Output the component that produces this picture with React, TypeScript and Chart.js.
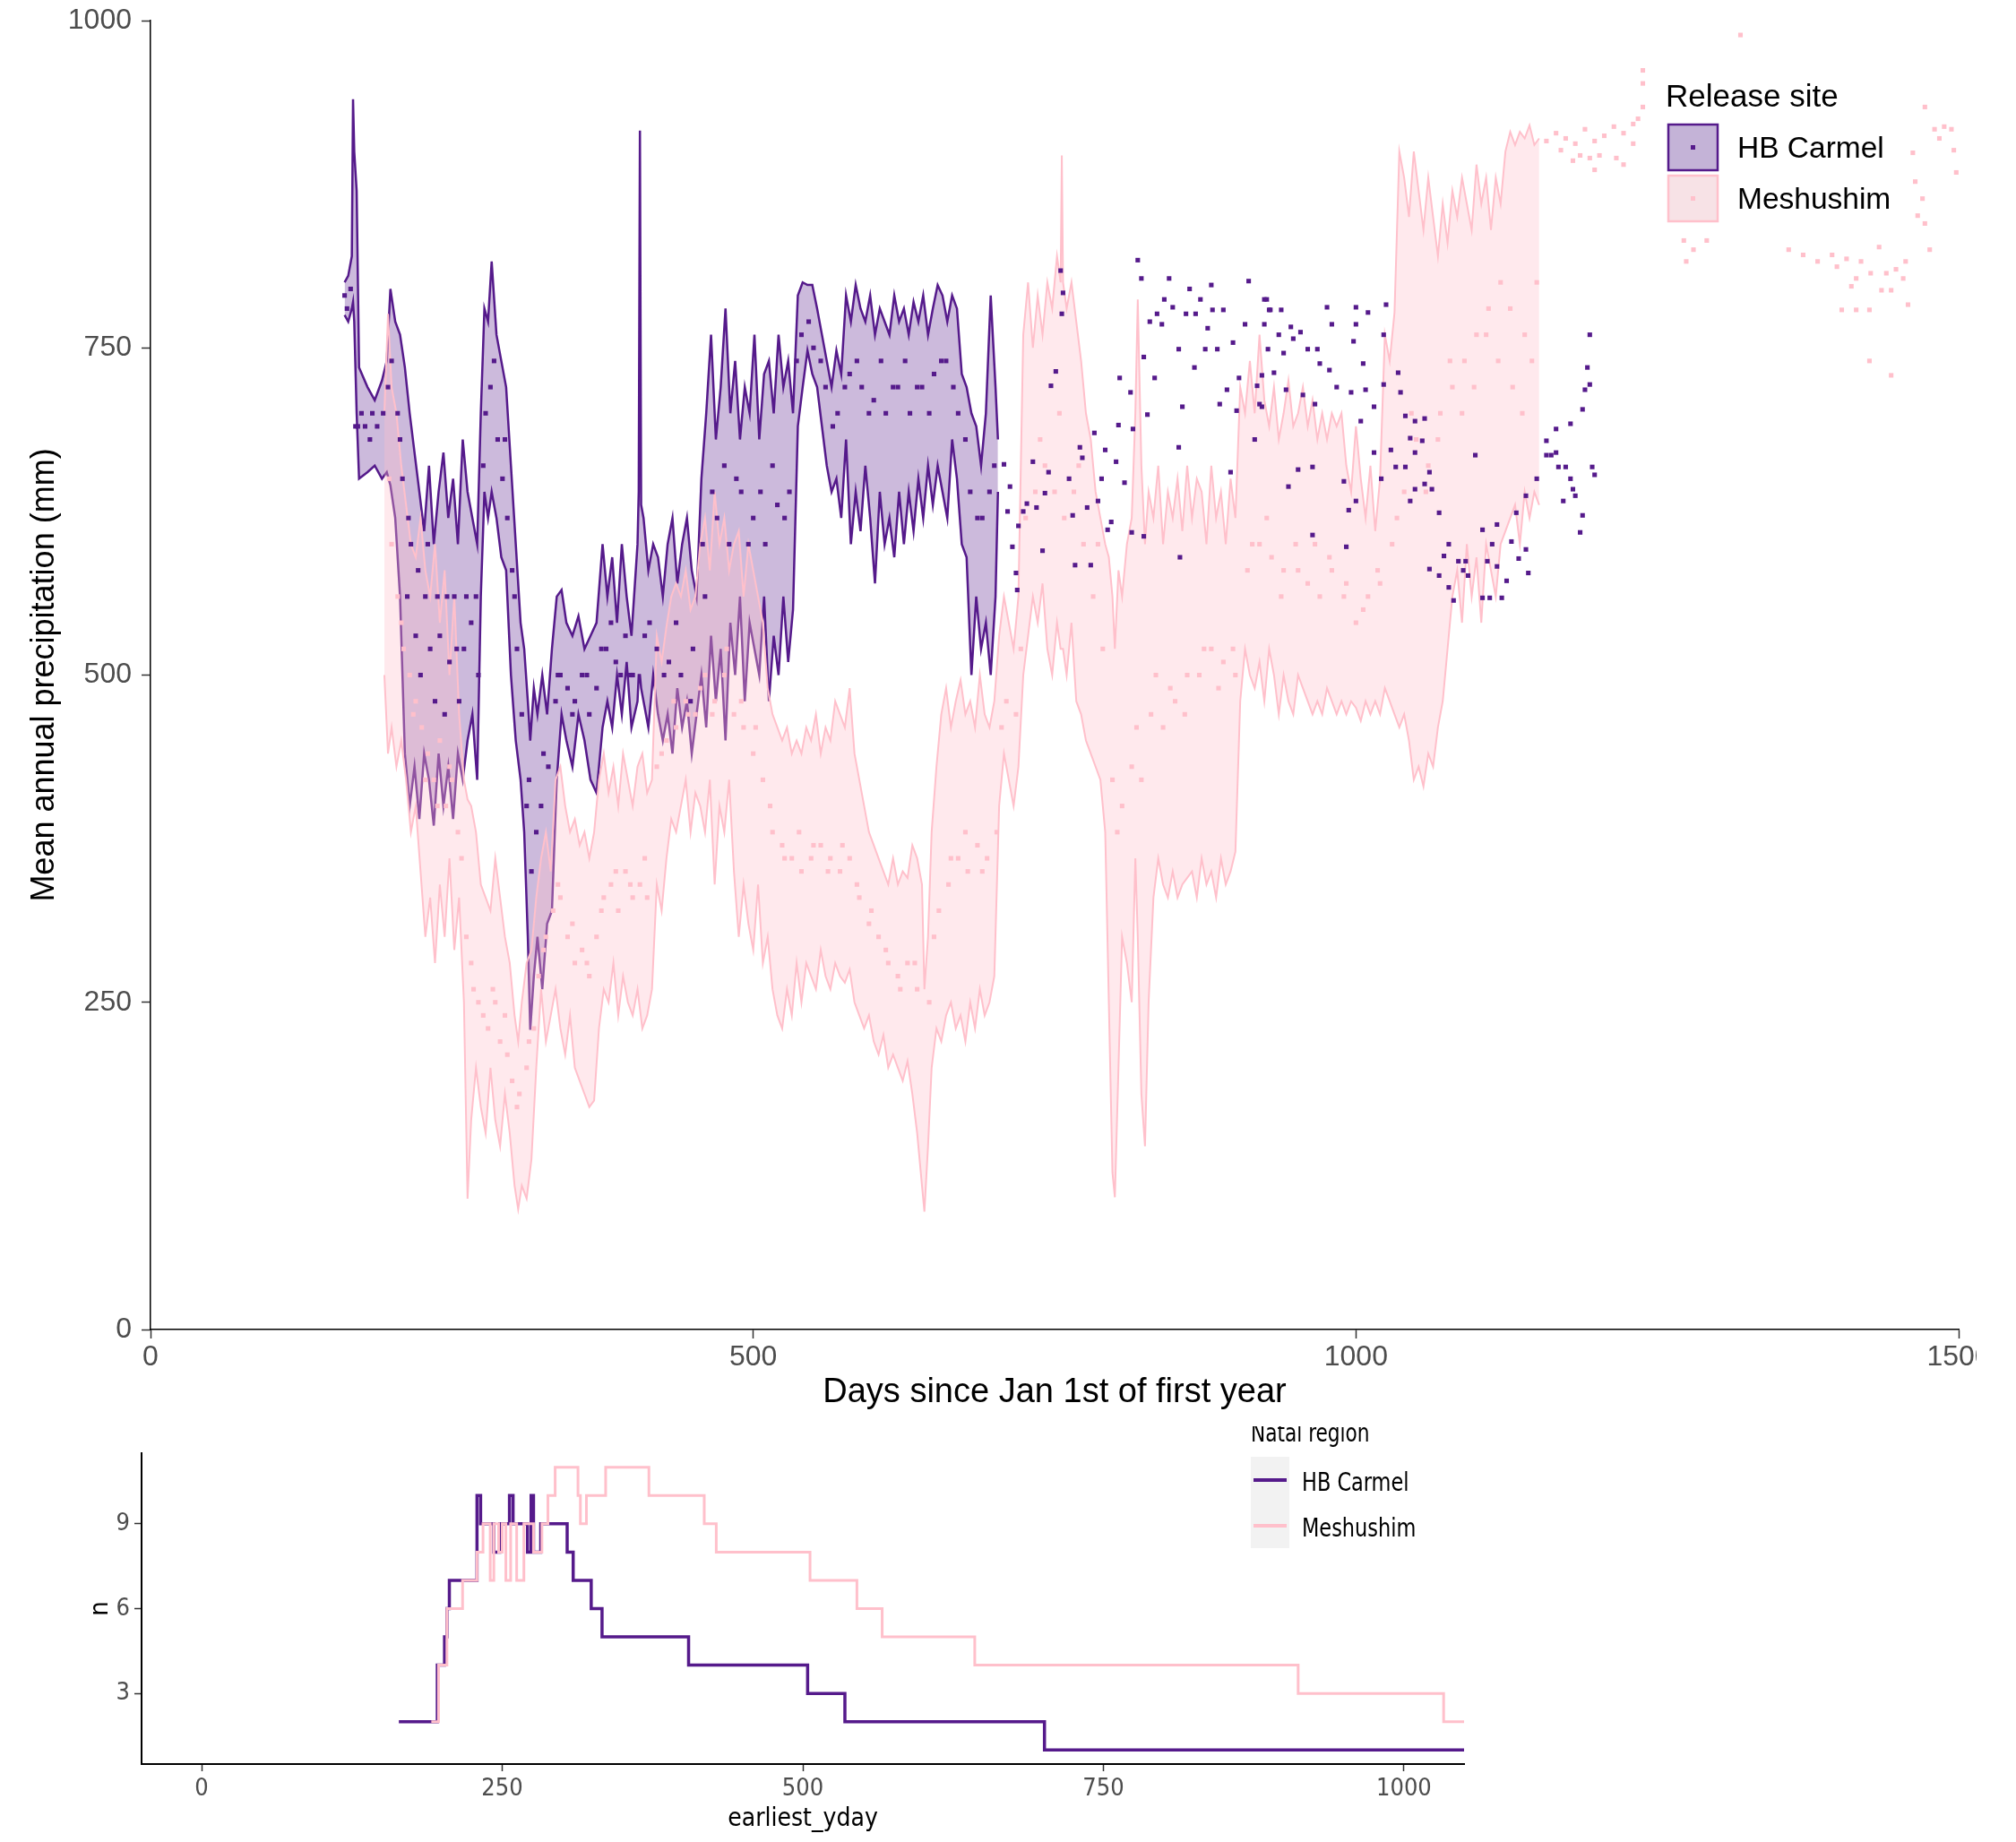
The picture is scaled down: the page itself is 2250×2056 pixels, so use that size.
import React, { useEffect, useRef } from "react";
import { Chart, registerables } from "chart.js";

Chart.register(...registerables);

const PURPLE = "#551A8B";
const PINK = "#FFC0CB";
const SANS = "'Liberation Sans', Arial, sans-serif";
const NARROW = "'Liberation Sans Narrow', 'Arial Narrow', 'DejaVu Sans Condensed', sans-serif";

// ---------- Top panel: ribbons (Release site) ----------
const carmelDays = [161, 164, 167, 168, 169, 171, 173, 180, 186, 192, 196, 199, 203, 207, 211, 215, 219, 223, 227, 231, 235, 239, 243, 247, 251, 255, 259, 263, 267, 271, 274, 277, 280, 283, 287, 291, 295, 299, 303, 307, 310, 313, 315, 318, 321, 325, 329, 333, 337, 341, 345, 350, 355, 360, 365, 370, 375, 379, 383, 387, 391, 395, 399, 404, 405, 406, 407, 409, 413, 417, 421, 425, 429, 433, 437, 441, 445, 449, 453, 457, 461, 465, 469, 473, 477, 481, 485, 489, 493, 497, 501, 505, 509, 513, 517, 521, 525, 529, 533, 537, 541, 545, 549, 553, 557, 561, 565, 569, 573, 577, 581, 585, 589, 593, 597, 601, 605, 609, 613, 617, 621, 625, 629, 633, 637, 641, 645, 649, 653, 657, 661, 665, 669, 673, 677, 681, 685, 689, 693, 697, 701, 703];
const carmelLower = [775, 770, 780, 785, 770, 700, 650, 655, 660, 650, 655, 645, 620, 560, 440, 400, 430, 390, 440, 420, 385, 440, 400, 430, 390, 440, 420, 450, 470, 420, 560, 640, 620, 640, 620, 590, 580, 500, 450, 420, 380, 300, 229, 270, 300, 260, 310, 320, 420, 470, 450, 430, 470, 450, 420, 410, 460, 480, 460, 500, 470, 510, 460, 480, 500, 500, 490, 480, 460, 500, 470, 450, 470, 440, 490, 460, 480, 440, 470, 500, 460, 530, 480, 520, 450, 540, 500, 560, 480, 540, 520, 500, 560, 480, 530, 500, 560, 510, 550, 690, 720, 748, 730, 720, 690, 660, 640, 650, 620, 680, 600, 640, 610, 660, 620, 570, 640, 600, 620, 590, 640, 600, 640, 610, 650, 620, 660, 630, 660, 640, 620, 680, 650, 600, 590, 500, 560, 520, 540, 500, 560, 640];
const carmelUpper = [800, 805, 820, 940, 900, 870, 735, 720, 710, 725, 740, 795, 770, 760, 735, 700, 670, 640, 610, 660, 600, 640, 670, 620, 650, 600, 680, 640, 620, 600, 700, 780, 770, 816, 760, 740, 720, 660, 600, 540, 520, 480, 450, 490, 470, 500, 470, 520, 560, 565, 540, 530, 545, 520, 530, 540, 600, 560, 590, 540, 600, 560, 530, 600, 640, 916, 630, 620, 580, 600, 590, 560, 600, 620, 570, 600, 620, 580, 560, 650, 700, 760, 680, 720, 780, 700, 740, 680, 720, 700, 760, 680, 730, 740, 700, 760, 720, 740, 700, 790, 800, 798, 798, 780, 760, 740, 720, 748, 730, 790, 770, 798, 780, 770, 790, 760, 780, 770, 760, 790, 770, 780, 760, 785, 770, 790, 760, 780, 798, 790, 770, 790, 780, 730, 720, 700, 690, 660, 700, 790, 720, 680];

const meshDays = [194, 197, 200, 204, 208, 212, 216, 220, 224, 228, 232, 236, 240, 244, 248, 252, 256, 260, 263, 266, 270, 274, 278, 282, 286, 290, 294, 298, 302, 305, 308, 312, 316, 320, 324, 328, 332, 336, 340, 344, 348, 352, 356, 360, 364, 368, 372, 376, 380, 384, 388, 392, 396, 400, 404, 408, 412, 416, 420, 424, 428, 432, 436, 440, 444, 448, 452, 456, 460, 464, 468, 472, 476, 480, 484, 488, 492, 496, 500, 504, 508, 512, 516, 520, 524, 528, 532, 536, 540, 544, 548, 552, 556, 560, 564, 568, 572, 576, 580, 584, 588, 592, 596, 600, 604, 608, 612, 616, 620, 624, 628, 632, 636, 640, 642, 645, 648, 652, 656, 660, 664, 668, 672, 676, 680, 684, 688, 692, 696, 700, 704, 708, 712, 716, 720, 724, 728, 732, 736, 740, 744, 748, 752, 755, 756, 757, 760, 764, 768, 772, 776, 780, 784, 788, 792, 795, 798, 800, 803, 806, 810, 814, 817, 819, 822, 825, 828, 832, 836, 840, 844, 848, 852, 856, 860, 864, 868, 872, 876, 880, 884, 888, 892, 896, 900, 904, 908, 912, 916, 920, 924, 928, 932, 936, 940, 944, 948, 952, 956, 960, 964, 968, 972, 976, 980, 984, 988, 992, 996, 1000, 1004, 1008, 1012, 1016, 1020, 1024, 1028, 1032, 1036, 1040, 1044, 1048, 1052, 1056, 1060, 1064, 1068, 1072, 1076, 1080, 1084, 1088, 1092, 1096, 1100, 1104, 1108, 1112, 1116, 1120, 1124, 1128, 1132, 1136, 1140, 1144, 1148, 1152];
const meshLower = [500, 440, 460, 430, 450, 420, 380, 400, 350, 300, 330, 280, 340, 300, 360, 290, 330, 250, 100, 160, 200, 170, 150, 200, 160, 140, 180, 150, 110, 92, 110, 100, 130, 200, 260, 220, 240, 260, 230, 210, 240, 200, 190, 180, 170, 175, 230, 260, 250, 280, 240, 270, 250, 240, 260, 230, 240, 260, 340, 320, 360, 390, 380, 400, 420, 380, 410, 400, 380, 420, 340, 400, 380, 420, 350, 300, 340, 310, 290, 340, 280, 300, 260, 240, 230, 260, 240, 280, 250, 280, 270, 260, 290, 270, 260, 280, 270, 265, 275, 250, 240, 230, 240, 220, 210, 225, 200, 210, 200, 190, 205, 180, 150, 110, 90, 140, 200, 230, 220, 240, 250, 230, 240, 220, 250, 230, 260, 240, 250, 270, 400, 440, 420, 400, 430, 500, 530, 560, 540, 570, 520, 500, 540, 520, 520, 520, 500, 540, 480, 470, 450, 440, 430, 420, 380, 250, 120, 101, 200, 300, 280, 250, 360, 300, 180, 140, 250, 330, 360, 340, 330, 350, 330, 340, 345, 350, 330, 360, 340, 350, 330, 360, 340, 350, 365, 480, 520, 500, 490, 510, 480, 520, 500, 470, 500, 480, 470, 500, 490, 480, 470, 480, 470, 490, 480, 470, 480, 470, 480, 475, 465, 480, 470, 480, 470, 490, 480, 470, 460, 470, 450, 420, 430, 415, 440, 430, 460, 480, 520, 560, 580, 540, 600, 560, 590, 540, 600, 580, 560, 600, 610, 620, 630, 600, 640, 620, 640, 630];
const meshUpper = [700, 776, 720, 700, 660, 630, 600, 590, 620, 580, 560, 600, 540, 580, 500, 560, 470, 420, 405, 400, 380, 340, 330, 320, 360, 330, 300, 280, 240, 220, 250, 280, 290, 330, 360, 380, 350, 420, 430, 400, 380, 390, 370, 380, 360, 380, 420, 440, 410, 430, 400, 440, 420, 400, 430, 440, 410, 420, 530, 510, 537, 560, 570, 560, 580, 550, 560, 600, 620, 580, 640, 600, 620, 580, 600, 610, 560, 600, 580, 560, 540, 490, 470, 460, 450, 460, 440, 450, 440, 460, 450, 470, 440, 460, 450, 480, 470, 460, 490, 440, 420, 400, 380, 370, 360, 350, 340, 360, 340, 350, 345, 370, 360, 340, 260, 300, 380, 430, 470, 490, 460, 480, 496, 470, 480, 460, 500, 470, 460, 480, 530, 560, 540, 520, 560, 760, 800, 750, 790, 760, 800, 780, 820, 800, 897, 800, 780, 800, 770, 740, 700, 680, 640, 620, 600, 590, 560, 520, 580, 560, 600, 620, 700, 787, 660, 600, 640, 620, 660, 600, 640, 620, 650, 610, 660, 620, 650, 640, 600, 660, 620, 640, 600, 650, 620, 720, 700, 740, 700, 760, 710, 690, 720, 680, 700, 725, 690, 700, 720, 690, 710, 680, 700, 680, 700, 690, 700, 660, 640, 690, 650, 620, 660, 610, 650, 760, 740, 777, 900, 880, 850, 900, 870, 840, 880, 850, 820, 860, 830, 870, 850, 880, 860, 840, 890, 860, 880, 840, 880, 860, 900, 915, 905, 915, 910, 920, 905, 910];

// ---------- Top panel: points ----------
const carmelPointDays = [161, 163, 166, 170, 175, 178, 182, 188, 193, 200, 205, 209, 213, 216, 220, 224, 228, 232, 236, 240, 244, 248, 252, 256, 260, 266, 272, 278, 282, 288, 292, 296, 300, 304, 308, 312, 316, 320, 324, 330, 336, 340, 346, 352, 358, 364, 370, 378, 386, 394, 400, 410, 420, 430, 440, 450, 460, 470, 480, 490, 500, 510, 520, 530, 540, 550, 560, 570, 580, 590, 600, 610, 620, 630, 640, 650, 660, 670, 680, 690, 700,
  708, 713, 711, 715, 718, 719, 720, 724, 727, 732, 735, 740, 742, 745, 747, 751, 755, 757, 756, 762, 765, 767, 771, 773, 777, 780, 783, 786, 789, 792, 794, 797, 801, 803, 804, 808, 813, 814, 815, 819, 822, 824, 824, 827, 829, 833, 835, 839, 841, 845, 848, 853, 853, 854, 856, 859, 862, 866, 867, 871, 875, 877, 880, 881, 885, 887, 890, 893, 896, 898, 901, 903, 908, 911, 916, 918, 922, 924, 927, 929,
  926, 928, 938, 924, 936, 946, 948, 954, 940, 960, 968, 976, 980, 970, 978, 984, 922, 932, 920, 942, 956, 966, 1000, 1000, 1010, 1025, 1023, 998, 1006, 1008, 996, 1015, 1004, 1023, 1037, 1035, 1041, 1049, 1057, 1045, 1055, 1015, 1029, 1049, 1061, 1041, 1057, 1063, 990, 964, 952, 944, 964, 992, 994, 1000, 1033, 1021, 1045, 1049, 1069, 1061, 1069, 1073, 1077, 1085, 1091, 1093, 1077, 1081, 1089, 1099, 1105, 1109, 1113, 1117, 1125, 1111, 1121, 1105, 1129, 1135, 1141, 1143, 1133, 1117, 1158, 1162, 1166, 1168, 1174, 1178, 1180, 1172, 1182, 1158, 1166, 1178, 1188, 1190, 1194, 1192, 1194, 1196, 1198, 1188, 1186, 1150, 1141];
const carmelPointValues = [790, 780, 795, 690, 700, 690, 680, 690, 700, 740, 700, 650, 560, 600, 530, 500, 560, 520, 480, 530, 470, 510, 560, 480, 520, 540, 500, 700, 720, 680, 650, 620, 580, 520, 470, 400, 350, 380, 400, 430, 480, 500, 490, 480, 500, 470, 490, 520, 510, 530, 500, 530, 520, 510, 500, 520, 560, 620, 600, 640, 620, 600, 630, 640, 760, 750, 720, 700, 730, 720, 710, 700, 720, 700, 720, 730, 740, 700, 640, 620, 660,
  661, 644, 625, 598, 578, 565, 614, 625, 631, 663, 628, 595, 639, 655, 721, 732, 809, 792, 776, 650, 622, 584, 674, 666, 628, 584, 685, 633, 650, 672, 611, 617, 663, 691, 727, 647, 716, 609, 688, 817, 803, 743, 606, 699, 770, 727, 776, 768, 787, 803, 781, 749, 674, 590, 705, 776, 795, 735, 776, 787, 749, 765, 798, 779, 749, 707, 779, 718, 655, 754, 702, 727, 768, 801, 680, 721, 705, 787, 749, 779,
  787, 779, 779, 768, 760, 766, 757, 762, 746, 749, 749, 781, 768, 738, 733, 720, 729, 731, 707, 718, 714, 707, 781, 768, 777, 783, 760, 755, 738, 718, 716, 705, 694, 722, 716, 731, 698, 694, 696, 681, 679, 670, 672, 670, 655, 659, 646, 642, 648, 659, 657, 644, 607, 598, 626, 633, 659, 650, 633, 642, 624, 581, 576, 591, 600, 587, 587, 576, 567, 557, 580, 668, 611, 587, 600, 583, 572, 559, 559, 559, 602, 589, 596, 578, 624, 615, 679, 668, 670, 659, 659, 650, 642, 633, 637, 668, 688, 692, 703, 718, 722, 735, 760, 659, 653, 622, 609, 650, 637];
const carmelInnerDays = [172, 184, 197, 207, 214, 222, 230, 238, 246, 254, 262, 270, 276, 285, 294, 302, 314, 326, 338, 350, 362, 374, 382, 390, 398, 414, 426, 436, 448, 458, 466, 476, 486, 496, 506, 516, 526, 536, 546, 556, 566, 576, 586, 596, 606, 616, 626, 636, 646, 656, 666, 676, 686, 696];
const carmelInnerValues = [690, 700, 720, 680, 620, 580, 600, 560, 560, 520, 560, 560, 660, 740, 680, 560, 420, 440, 500, 470, 500, 520, 540, 500, 500, 540, 500, 540, 480, 600, 640, 660, 650, 600, 640, 660, 620, 740, 770, 740, 690, 720, 740, 700, 740, 720, 740, 720, 700, 740, 720, 680, 620, 640];

const meshPointDays = [200, 205, 210, 215, 220, 225, 230, 235, 240, 245, 250, 255, 262, 268, 272, 276, 280, 286, 290, 296, 300, 306, 312, 318, 322, 328, 334, 340, 346, 352, 358, 364, 370, 376, 382, 388, 394, 400, 406, 412, 420, 428, 436, 444, 452, 460, 468, 476, 484, 492, 500, 508, 516, 524, 532, 540, 548, 556, 564, 572, 580, 588, 596, 604, 612, 620, 628, 636, 646, 654, 662, 670, 678, 686, 694, 702, 710, 718, 726, 734, 742, 750, 758, 766, 774, 782, 790, 798, 806, 814, 822, 830, 840, 850, 860, 870, 880, 890, 900, 910, 920, 930, 940, 950, 960, 970, 980, 990, 1000, 1010, 1020, 1030, 1040, 1050, 1060, 1070, 1080, 1090, 1100, 1110, 1120, 1130, 1140, 1150,
  1158, 1166, 1174, 1182, 1190, 1198, 1202, 1206, 1214, 1222, 1230, 1234, 1238, 1238, 1238, 1216, 1198, 1186, 1170, 1180, 1194, 1222, 1230, 1319, 1272, 1291, 1274, 1280, 1359, 1371, 1383, 1395, 1399, 1407, 1415, 1419, 1427, 1434, 1440, 1448, 1454, 1456, 1436, 1444, 1411, 1403, 1415, 1426, 1458, 1426, 1444, 1472, 1480, 1488, 1494, 1484, 1496, 1498, 1462, 1464, 1470, 1466, 1472, 1476];
const meshPointValues = [600, 560, 520, 500, 480, 460, 440, 420, 450, 400, 420, 380, 300, 260, 250, 240, 230, 250, 220, 210, 190, 180, 200, 230, 270, 300, 320, 330, 300, 280, 290, 270, 300, 330, 340, 320, 350, 330, 340, 330, 430, 450, 460, 480, 470, 500, 480, 500, 470, 460, 440, 420, 380, 370, 360, 350, 360, 370, 360, 350, 360, 330, 310, 300, 280, 270, 280, 260, 250, 320, 340, 360, 350, 370, 360, 380, 480, 470, 620, 640, 660, 640, 620, 640, 600, 560, 520, 420, 400, 430, 420, 470, 460, 480, 500, 500, 520, 510, 500, 580, 600, 590, 580, 600, 570, 560, 580, 560, 540, 560, 570, 600, 640, 680, 660, 700, 720, 740, 760, 780, 800, 720, 760, 800,
  908, 914, 910, 906, 917, 908, 897, 912, 919, 914, 921, 925, 934, 952, 962, 895, 886, 897, 901, 893, 895, 890, 906, 989, 832, 832, 816, 825, 825, 821, 816, 821, 812, 818, 803, 816, 807, 827, 807, 810, 803, 816, 794, 794, 797, 779, 779, 779, 783, 740, 729, 934, 917, 919, 917, 910, 901, 884, 899, 877, 864, 851, 845, 825];
const meshInnerDays = [198, 208, 218, 228, 238, 248, 258, 266, 284, 294, 304, 314, 326, 338, 350, 362, 374, 386, 398, 410, 424, 434, 446, 456, 466, 478, 490, 502, 514, 526, 538, 550, 562, 574, 586, 598, 610, 622, 634, 650, 664, 676, 690, 706, 722, 738, 754, 770, 786, 802, 818, 834, 846, 858, 874, 886, 898, 914, 926, 938, 952, 966, 978, 992, 1006, 1018, 1034, 1046, 1058, 1068, 1078, 1088, 1098, 1108, 1118, 1128, 1138, 1146];
const meshInnerValues = [650, 540, 470, 420, 400, 430, 360, 280, 260, 240, 170, 220, 290, 340, 310, 280, 320, 350, 340, 360, 440, 480, 470, 490, 470, 520, 480, 460, 400, 360, 380, 370, 350, 370, 340, 320, 290, 260, 280, 300, 360, 380, 350, 460, 520, 680, 700, 660, 600, 380, 460, 500, 490, 470, 520, 490, 520, 600, 620, 560, 580, 600, 590, 570, 550, 580, 620, 700, 640, 680, 740, 700, 720, 760, 740, 780, 700, 740];

// ---------- Bottom panel: step counts (Natal region) ----------
const natalCarmelDays = [164, 196, 202, 204, 206, 229, 232, 243, 248, 256, 259, 271, 274, 276, 282, 304, 309, 324, 333, 405, 504, 535, 701, 1050];
const natalCarmelN = [2, 4, 5, 6, 7, 10, 9, 8, 9, 10, 9, 8, 10, 8, 9, 8, 7, 6, 5, 4, 3, 2, 1, 1];
const natalMeshDays = [191, 197, 204, 217, 229, 234, 240, 243, 247, 250, 253, 257, 262, 268, 276, 283, 288, 294, 313, 315, 320, 336, 372, 418, 428, 506, 545, 566, 643, 912, 1033, 1050];
const natalMeshN = [2, 4, 6, 7, 8, 9, 7, 9, 8, 9, 7, 9, 7, 9, 8, 9, 10, 11, 10, 9, 10, 11, 10, 9, 8, 7, 6, 5, 4, 3, 2, 2];

// ---------- Axis ticks ----------
const topXTicks = [0, 500, 1000, 1500];
const topYTicks = [0, 250, 500, 750, 1000];
const bottomXTicks = [0, 250, 500, 750, 1000];
const bottomYTicks = [3, 6, 9];

const releaseSites = ["HB Carmel", "Meshushim"];

const zip = (xs: number[], ys: number[]) => xs.map((x, i) => ({ x, y: ys[i] }));

const topLegendPlugin = {
  id: "releaseLegend",
  afterDraw(chart: any) {
    const ctx = chart.ctx as CanvasRenderingContext2D;
    ctx.save();
    ctx.fillStyle = "#000";
    ctx.textBaseline = "middle";
    ctx.textAlign = "left";
    ctx.font = `35px ${SANS}`;
    ctx.fillText("Release site", 1851, 101);
    const keys = [
      { y: 130, fill: "#C4B3D7", stroke: PURPLE, dot: PURPLE },
      { y: 187, fill: "#F7E2E6", stroke: PINK, dot: PINK },
    ];
    keys.forEach((k, i) => {
      ctx.fillStyle = k.fill;
      ctx.fillRect(1853, k.y, 57, 53);
      ctx.strokeStyle = k.stroke;
      ctx.lineWidth = 2.5;
      ctx.strokeRect(1854, k.y + 1, 55, 51);
      ctx.fillStyle = k.dot;
      ctx.fillRect(1879, k.y + 24, 5, 5);
      ctx.fillStyle = "#000";
      ctx.font = `33.5px ${SANS}`;
      ctx.fillText(releaseSites[i], 1931, k.y + 29);
    });
    ctx.restore();
  },
};

const bottomLegendPlugin = {
  id: "natalLegend",
  afterDraw(chart: any) {
    const ctx = chart.ctx as CanvasRenderingContext2D;
    const squeezeText = (text: string, x: number, y: number) => {
      ctx.save();
      ctx.translate(x, y);
      ctx.scale(0.86, 1);
      ctx.fillText(text, 0, 0);
      ctx.restore();
    };
    ctx.save();
    ctx.fillStyle = "#000";
    ctx.textAlign = "left";
    ctx.textBaseline = "alphabetic";
    ctx.font = `28px ${NARROW}`;
    squeezeText("Natal region", 1388, 17);
    ctx.fillStyle = "#F2F2F2";
    ctx.fillRect(1388, 34, 43, 102);
    const rows = [
      { y: 60, color: PURPLE },
      { y: 111, color: PINK },
    ];
    rows.forEach((r, i) => {
      ctx.strokeStyle = r.color;
      ctx.lineWidth = 4;
      ctx.beginPath();
      ctx.moveTo(1391, r.y);
      ctx.lineTo(1428, r.y);
      ctx.stroke();
      ctx.fillStyle = "#000";
      ctx.textBaseline = "middle";
      ctx.font = `29px ${NARROW}`;
      squeezeText(releaseSites[i], 1445, r.y + 4);
    });
    ctx.restore();
  },
};

export default function App() {
  const topRef = useRef<HTMLCanvasElement | null>(null);
  const bottomRef = useRef<HTMLCanvasElement | null>(null);

  useEffect(() => {
    if (!topRef.current || !bottomRef.current) return;

    const axisGrid = (len: number) => ({
      display: true,
      drawOnChartArea: false,
      drawTicks: true,
      tickLength: len,
      tickColor: "#333333",
      tickWidth: 1.5,
    });

    const top = new Chart(topRef.current, {
      type: "line",
      data: {
        datasets: [
          { label: "HB Carmel lower", data: zip(carmelDays, carmelLower), borderColor: PURPLE, borderWidth: 2.5, pointRadius: 0, fill: false, order: 5, tension: 0 },
          { label: "HB Carmel", data: zip(carmelDays, carmelUpper), borderColor: PURPLE, borderWidth: 2.5, pointRadius: 0, fill: "-1", backgroundColor: "rgba(85,26,139,0.3)", order: 4, tension: 0 },
          { label: "Meshushim lower", data: zip(meshDays, meshLower), borderColor: PINK, borderWidth: 2, pointRadius: 0, fill: false, order: 3, tension: 0 },
          { label: "Meshushim", data: zip(meshDays, meshUpper), borderColor: PINK, borderWidth: 2, pointRadius: 0, fill: "-1", backgroundColor: "rgba(255,192,203,0.35)", order: 2, tension: 0 },
          { label: "HB Carmel points", data: zip(carmelPointDays.concat(carmelInnerDays), carmelPointValues.concat(carmelInnerValues)), showLine: false, pointStyle: "rect", pointRadius: 3.6, pointBackgroundColor: PURPLE, pointBorderWidth: 0, borderColor: PURPLE, order: 1 },
          { label: "Meshushim points", data: zip(meshPointDays.concat(meshInnerDays), meshPointValues.concat(meshInnerValues)), showLine: false, pointStyle: "rect", pointRadius: 3.6, pointBackgroundColor: PINK, pointBorderWidth: 0, borderColor: PINK, order: 0 },
        ] as any,
      },
      options: {
        animation: false,
        responsive: false,
        maintainAspectRatio: false,
        events: [],
        layout: { padding: { left: 0, right: 56, top: 15, bottom: 0 } },
        plugins: { legend: { display: false }, tooltip: { enabled: false } },
        scales: {
          x: {
            type: "linear",
            min: 0,
            max: 1500,
            afterBuildTicks: (s: any) => { s.ticks = topXTicks.map((v) => ({ value: v })); },
            afterFit: (s: any) => { s.height = 108; s.paddingLeft = 0; s.paddingRight = 0; },
            grid: axisGrid(10),
            border: { display: true, color: "#000", width: 1.5 },
            ticks: { color: "#4D4D4D", font: { family: SANS, size: 32 }, padding: 2, maxRotation: 0, autoSkip: false, callback: (v: any) => String(v) },
            title: { display: true, text: "Days since Jan 1st of first year", color: "#000", font: { family: SANS, size: 38 }, padding: { top: 0, bottom: 15 } },
          },
          y: {
            type: "linear",
            min: 0,
            max: 1000,
            afterBuildTicks: (s: any) => { s.ticks = topYTicks.map((v) => ({ value: v })); },
            afterFit: (s: any) => { s.width = 160; s.paddingTop = 0; s.paddingBottom = 0; },
            grid: axisGrid(10),
            border: { display: true, color: "#000", width: 1.5 },
            ticks: { color: "#4D4D4D", font: { family: SANS, size: 32 }, padding: 11, autoSkip: false, callback: (v: any) => String(v) },
            title: { display: true, text: "Mean annual precipitation (mm)", color: "#000", font: { family: SANS, size: 36 }, padding: { top: 20, bottom: 0 } },
          },
        },
      } as any,
      plugins: [topLegendPlugin],
    });

    const bottom = new Chart(bottomRef.current, {
      type: "line",
      data: {
        datasets: [
          { label: "HB Carmel", data: zip(natalCarmelDays, natalCarmelN), borderColor: PURPLE, borderWidth: 3.5, pointRadius: 0, stepped: true, fill: false, order: 1 },
          { label: "Meshushim", data: zip(natalMeshDays, natalMeshN), borderColor: PINK, borderWidth: 3, pointRadius: 0, stepped: true, fill: false, order: 0 },
        ] as any,
      },
      options: {
        animation: false,
        responsive: false,
        maintainAspectRatio: false,
        events: [],
        layout: { padding: { left: 0, right: 608, top: 30, bottom: 0 } },
        plugins: { legend: { display: false }, tooltip: { enabled: false } },
        scales: {
          x: {
            type: "linear",
            min: -50,
            max: 1050,
            afterBuildTicks: (s: any) => { s.ticks = bottomXTicks.map((v) => ({ value: v })); },
            afterFit: (s: any) => { s.height = 79; s.paddingLeft = 0; s.paddingRight = 0; },
            grid: axisGrid(8),
            border: { display: true, color: "#000", width: 2 },
            ticks: { color: "#4D4D4D", font: { family: NARROW, size: 27 }, padding: 4, maxRotation: 0, autoSkip: false, callback: (v: any) => String(v) },
            title: { display: true, text: "earliest_yday", color: "#000", font: { family: NARROW, size: 28, lineHeight: 1 }, padding: { top: 0, bottom: 3 } },
          },
          y: {
            type: "linear",
            min: 0.5,
            max: 11.5,
            afterBuildTicks: (s: any) => { s.ticks = bottomYTicks.map((v) => ({ value: v })); },
            afterFit: (s: any) => { s.width = 150; s.paddingTop = 0; s.paddingBottom = 0; },
            grid: axisGrid(8),
            border: { display: true, color: "#000", width: 2 },
            ticks: { color: "#4D4D4D", font: { family: NARROW, size: 27 }, padding: 5, autoSkip: false, callback: (v: any) => String(v) },
            title: { display: true, text: "n", color: "#000", font: { family: NARROW, size: 29 }, padding: { top: 87, bottom: 0 } },
          },
        },
      } as any,
      plugins: [bottomLegendPlugin],
    });

    return () => {
      top.destroy();
      bottom.destroy();
    };
  }, []);

  return (
    <div style={{ width: 2234 }}>
      <div style={{ width: 2198, height: 1584, overflow: "hidden" }}>
        <canvas ref={topRef} width={2234} height={1584} style={{ display: "block", width: 2234, height: 1584 }} />
      </div>
      <div style={{ width: 2234, height: 456, overflow: "hidden" }}>
        <canvas ref={bottomRef} width={2234} height={456} style={{ display: "block", width: 2234, height: 456 }} />
      </div>
    </div>
  );
}
